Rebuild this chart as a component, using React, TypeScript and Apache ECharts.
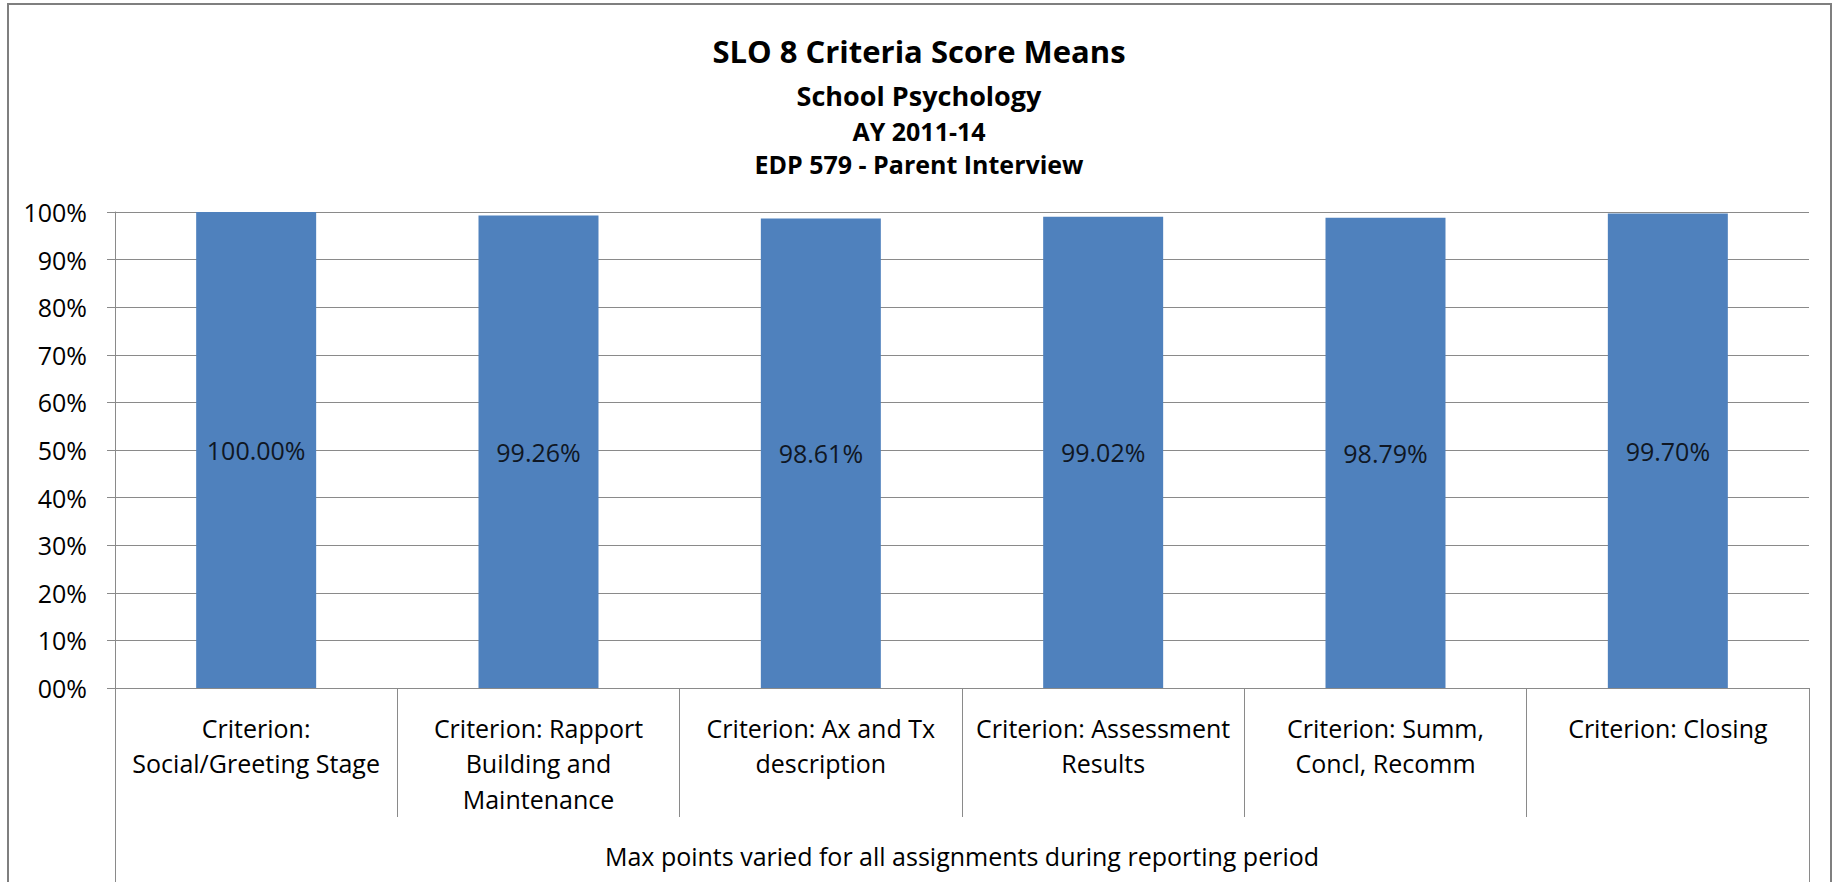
import React, { useEffect, useRef } from "react";
import * as echarts from "echarts";

const categories = [
  "Criterion:\nSocial/Greeting Stage",
  "Criterion: Rapport\nBuilding and\nMaintenance",
  "Criterion: Ax and Tx\ndescription",
  "Criterion: Assessment\nResults",
  "Criterion: Summ,\nConcl, Recomm",
  "Criterion: Closing",
];
const scores = [100, 99.26, 98.61, 99.02, 98.79, 99.7];
const groupLabels = ["Max points varied for all assignments during reporting period"];
const titleLines = [
  "SLO 8 Criteria Score Means",
  "School Psychology",
  "AY 2011-14",
  "EDP 579 - Parent Interview",
];
const yMin = 0;
const yMax = 100;
const yStep = 10;

const FONT = "'Open Sans', 'Noto Sans', sans-serif";
const GRID = "#8a8a8a";

export default function App() {
  const ref = useRef<HTMLDivElement>(null);
  useEffect(() => {
    if (!ref.current) return;
    const chart = echarts.init(ref.current, undefined, { renderer: "svg" });
    const titleY = [50.5, 95, 131, 164];
    const titleSize = [31, 27, 25, 25];
    chart.setOption({
      animation: false,
      backgroundColor: "#ffffff",
      textStyle: { fontFamily: FONT },
      graphic: [
        {
          type: "polyline",
          shape: { points: [[8, 890], [8, 4], [1831, 4], [1831, 890]] },
          style: { stroke: "#7f7f7f", lineWidth: 2, fill: null },
          silent: true,
        },
        ...titleLines.map((t, i) => ({
          type: "text",
          x: 919,
          y: titleY[i],
          style: {
            text: t,
            fontFamily: FONT,
            fontSize: titleSize[i],
            fontWeight: "bold",
            fill: "#000",
            textAlign: "center",
            textVerticalAlign: "middle",
          },
        })),
      ],
      grid: { left: 115, right: 28, top: 212, bottom: 194, containLabel: false },
      xAxis: [
        {
          type: "category",
          position: "bottom",
          data: categories,
          axisLine: { show: true, lineStyle: { color: GRID, width: 1 } },
          axisTick: { show: true, length: 129, interval: 0, lineStyle: { color: GRID } },
          axisLabel: {
            interval: 0,
            margin: 22,
            fontSize: 25,
            lineHeight: 35.5,
            color: "#000",
            fontFamily: FONT,
          },
          splitLine: { show: false },
        },
        {
          type: "category",
          position: "bottom",
          data: groupLabels,
          axisLine: { show: false },
          axisTick: { show: true, length: 194, interval: 0, lineStyle: { color: GRID } },
          axisLabel: {
            interval: 0,
            margin: 153,
            fontSize: 25,
            lineHeight: 30,
            color: "#000",
            fontFamily: FONT,
          },
          splitLine: { show: false },
        },
      ],
      yAxis: {
        type: "value",
        min: yMin,
        max: yMax,
        interval: yStep,
        axisLine: { show: true, lineStyle: { color: GRID, width: 1 } },
        axisTick: { show: true, length: 8, lineStyle: { color: GRID } },
        splitLine: { show: true, lineStyle: { color: GRID, width: 1 } },
        axisLabel: {
          margin: 28,
          fontSize: 25,
          color: "#000",
          fontFamily: FONT,
          formatter: (v: number) => (v === 0 ? "00" : String(v)) + "%",
        },
      },
      series: [
        {
          type: "bar",
          xAxisIndex: 0,
          data: scores,
          barCategoryGap: "57.5%",
          itemStyle: { color: "#4F81BD" },
          label: {
            show: true,
            position: "inside",
            fontSize: 25,
            fontFamily: FONT,
            color: "#0f1724",
            formatter: (p: any) => Number(p.value).toFixed(2) + "%",
          },
        },
      ],
    });
    return () => chart.dispose();
  }, []);
  return (
    <div
      ref={ref}
      style={{ position: "absolute", left: 0, top: 0, width: 1837, height: 882 }}
    />
  );
}
